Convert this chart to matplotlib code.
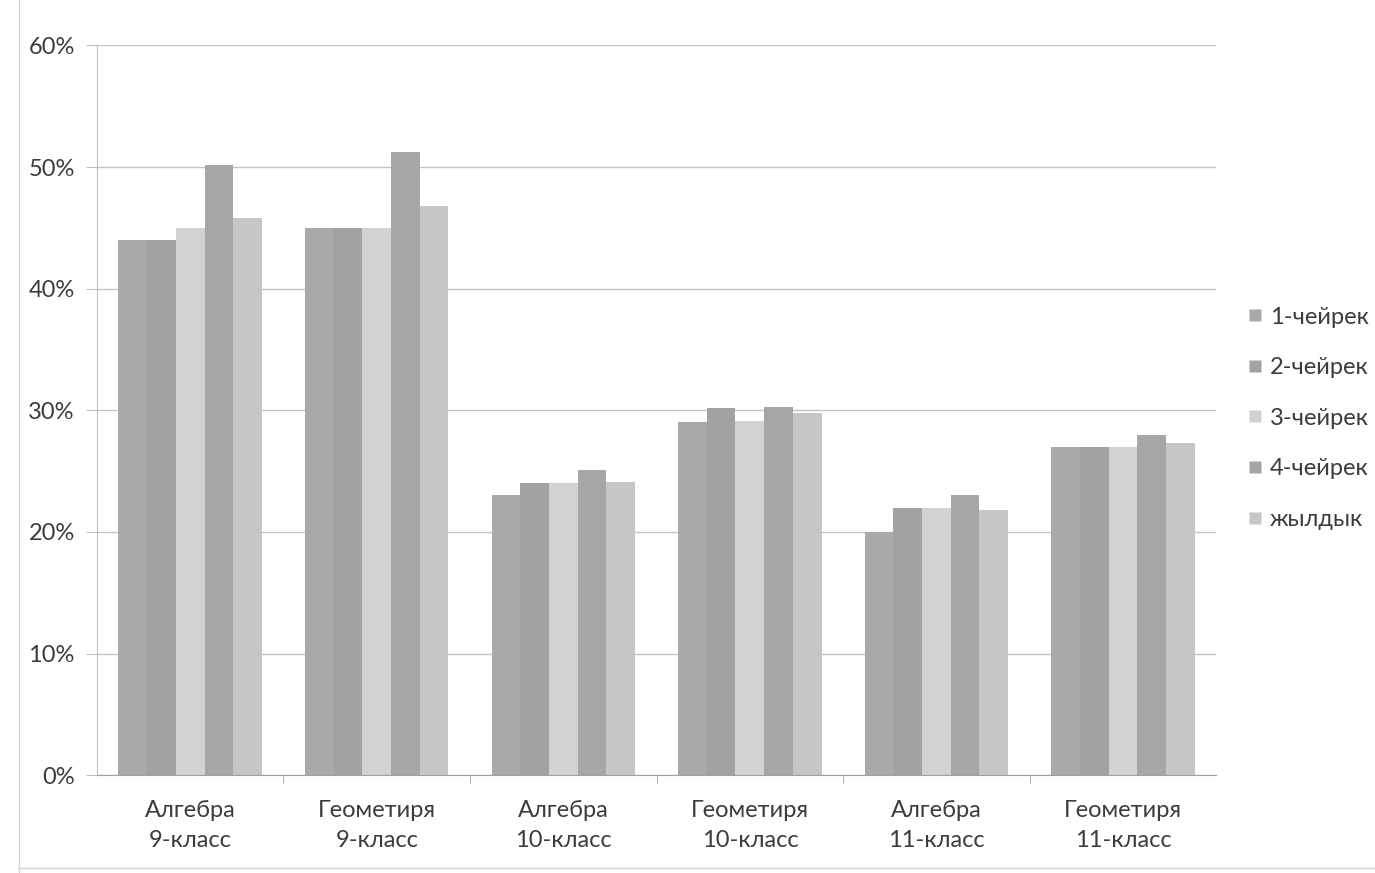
import matplotlib
matplotlib.use("Agg")
import matplotlib.pyplot as plt
import numpy as np
from matplotlib.ticker import FuncFormatter, MultipleLocator
from matplotlib.lines import Line2D

categories = ["Алгебра\n9-класс", "Геометиря\n9-класс", "Алгебра\n10-класс",
              "Геометиря\n10-класс", "Алгебра\n11-класс", "Геометиря\n11-класс"]
series_names = ["1-чейрек", "2-чейрек", "3-чейрек", "4-чейрек", "жылдык"]
q1 = [44.0, 45.0, 23.0, 29.0, 20.0, 27.0]
q2 = [44.0, 45.0, 24.0, 30.2, 22.0, 27.0]
q3 = [45.0, 45.0, 24.0, 29.1, 22.0, 27.0]
q4 = [50.2, 51.2, 25.1, 30.3, 23.0, 28.0]
year = [45.8, 46.8, 24.1, 29.8, 21.8, 27.3]
series = [q1, q2, q3, q4, year]
colors = ["#a9a9a9", "#a2a2a2", "#d2d2d2", "#a6a6a6", "#c6c6c6"]

plt.rcParams['font.family'] = ['Lato', 'DejaVu Sans']

fig = plt.figure(figsize=(13.75, 8.73), dpi=100)
ax = fig.add_axes([0.0705, 0.112, 0.814, 0.836])

n = len(series)
x = np.arange(len(categories))
gap = 1.5
w = 1.0 / (n + gap)
for i, (vals, c) in enumerate(zip(series, colors)):
    ax.bar(x - 0.5 + w * (gap / 2 + i + 0.5), vals, width=w, color=c,
           edgecolor='none', label=series_names[i], zorder=2)

ax.set_xlim(-0.5, len(categories) - 0.5)
ax.set_ylim(0, 60)
ax.yaxis.set_major_locator(MultipleLocator(10))
ax.yaxis.set_major_formatter(FuncFormatter(lambda v, p: f"{int(v)}%"))
ax.grid(axis='y', color='#c4c4c4', linewidth=1.0, zorder=0)
ax.set_axisbelow(True)

for s in ['top', 'right']:
    ax.spines[s].set_visible(False)
ax.spines['left'].set_color('#c0c0c0')
ax.spines['bottom'].set_color('#a0a0a0')

ax.set_xticks(x)
ax.set_xticklabels(categories, fontsize=17, color='#3c3c3c', linespacing=1.5)
ax.tick_params(axis='x', length=0, pad=18)
ax.set_xticks(np.arange(0.5, len(categories) - 0.5, 1), minor=True)
ax.tick_params(axis='x', which='minor', length=6, color='#a0a0a0')
ax.tick_params(axis='y', labelsize=17, labelcolor='#3c3c3c', length=8,
               color='#c0c0c0', pad=8)

handles = [Line2D([0], [0], marker='s', linestyle='none', markersize=8,
                  markerfacecolor=c, markeredgecolor='none') for c in colors]
leg = fig.legend(handles, series_names, loc='upper left',
                 bbox_to_anchor=(0.889, 0.673), frameon=False, fontsize=17,
                 labelspacing=1.25, handletextpad=0.1, handlelength=1.0,
                 labelcolor='#3c3c3c')

# faint chart-area border
fig.add_artist(Line2D([0.014, 0.014], [0.0, 1.0], color='#d4d4d4', lw=1.0,
                      transform=fig.transFigure))
fig.add_artist(Line2D([0.014, 1.0], [0.006, 0.006], color='#d4d4d4', lw=1.0,
                      transform=fig.transFigure))

fig.savefig("out.png", dpi=100, facecolor='white')
